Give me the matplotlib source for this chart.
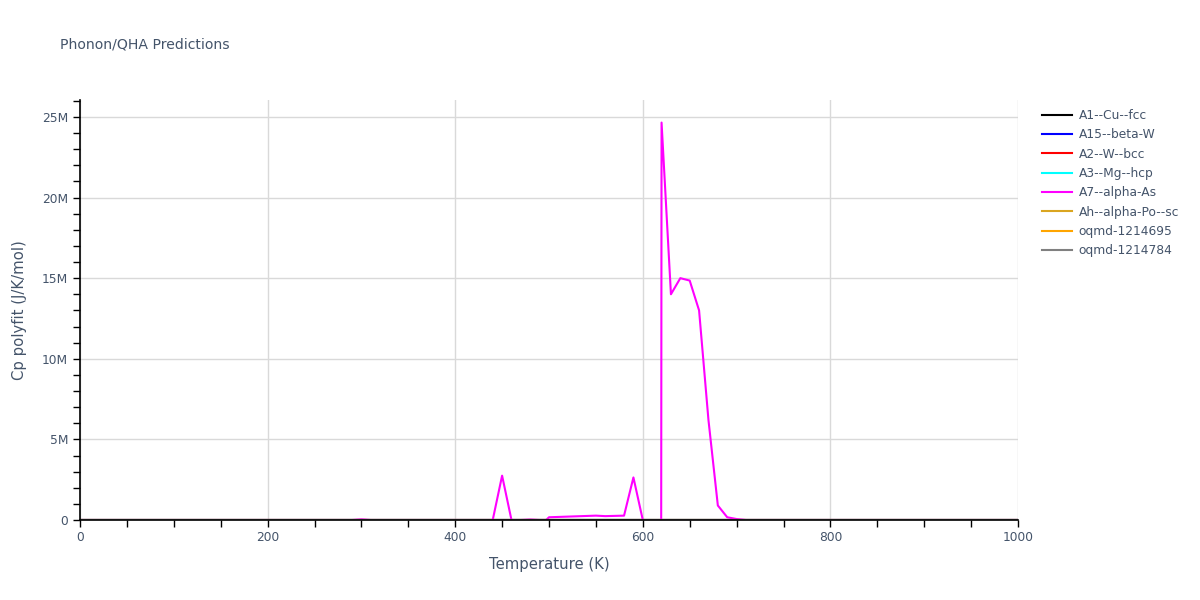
import matplotlib.pyplot as plt
from matplotlib.ticker import FuncFormatter, MultipleLocator

######### DATA #########
temps_coarse = [0, 100, 200, 300, 400, 500, 600, 700, 800, 900, 1000]
cp_a1 = [0, 16, 22, 24, 25, 25.5, 26, 26.5, 27, 27.5, 28]
cp_a15 = [0, 15, 21, 23, 24, 24.5, 25, 25.5, 26, 26.5, 27]
cp_a2 = [0, 14, 21, 23, 24, 24.6, 25.1, 25.6, 26.1, 26.6, 27.1]
cp_a3 = [0, 17, 22, 24, 25, 25.4, 25.8, 26.2, 26.6, 27, 27.4]
cp_ah = [0, 13, 20, 23, 24, 24.8, 25.5, 26, 26.6, 27.2, 27.8]
cp_oq1 = [0, 15, 21, 23.5, 24.5, 25, 25.5, 26, 26.5, 27, 27.5]
cp_oq2 = [0, 16, 21.5, 23.8, 24.8, 25.3, 25.8, 26.3, 26.8, 27.3, 27.8]

# A7--alpha-As blows up around 600-700 K (values in J/K/mol)
temps_a7 = [0, 100, 200, 290, 300, 310, 400, 440, 450, 460, 470, 480, 490, 497,
            500, 550, 560, 580, 590, 600, 610, 620, 630, 640, 650, 660, 670, 680,
            690, 700, 710, 800, 900, 1000]
cp_a7 = [0, 0, 0, 0, 0.04e6, 0, 0, 0, 2.75e6, 0, 0, 0.03e6, 0, 0, 0.17e6,
         0.27e6, 0.24e6, 0.27e6, 2.64e6, 0, -600e6, 24.65e6, 14.0e6, 15.0e6,
         14.85e6, 13.0e6, 6.2e6, 0.9e6, 0.17e6, 0.06e6, 0, 0, 0, 0]

series = [
    ("A1--Cu--fcc", temps_coarse, cp_a1, "black"),
    ("A15--beta-W", temps_coarse, cp_a15, "blue"),
    ("A2--W--bcc", temps_coarse, cp_a2, "red"),
    ("A3--Mg--hcp", temps_coarse, cp_a3, "cyan"),
    ("A7--alpha-As", temps_a7, cp_a7, "magenta"),
    ("Ah--alpha-Po--sc", temps_coarse, cp_ah, "goldenrod"),
    ("oqmd-1214695", temps_coarse, cp_oq1, "orange"),
    ("oqmd-1214784", temps_coarse, cp_oq2, "grey"),
]

######### PLOTTING #########
text_color = "#44546a"
fig = plt.figure(figsize=(12, 6), dpi=100)
ax = fig.add_axes([80 / 1200, 1 - 520 / 600, 938 / 1200, 420 / 600])

for name, t, cp, color in series:
    ax.plot(t, cp, color=color, lw=1.5, label=name)

ax.set_xlim(0, 1000)
ax.set_ylim(0, 26.05e6)

ax.xaxis.set_major_locator(MultipleLocator(200))
ax.xaxis.set_minor_locator(MultipleLocator(50))
ax.yaxis.set_major_locator(MultipleLocator(5e6))
ax.yaxis.set_minor_locator(MultipleLocator(1e6))
ax.yaxis.set_major_formatter(FuncFormatter(lambda v, p: "0" if v == 0 else "%dM" % round(v / 1e6)))

ax.grid(True, which="major", color="#d9d9d9", lw=1)
ax.set_axisbelow(True)
for side in ["top", "right"]:
    ax.spines[side].set_visible(False)
for side in ["left", "bottom"]:
    ax.spines[side].set_color("black")
    ax.spines[side].set_linewidth(1.2)
    ax.spines[side].set_zorder(5)

ax.tick_params(which="both", direction="out", length=5, width=1, color="black",
               labelcolor=text_color, labelsize=8.8)
ax.tick_params(axis="x", pad=3)

ax.set_xlabel("Temperature (K)", color=text_color, fontsize=10.7, labelpad=9)
ax.set_ylabel("Cp polyfit (J/K/mol)", color=text_color, fontsize=10.7, labelpad=11)

fig.text(60 / 1200, 1 - 45 / 600, "Phonon/QHA Predictions", color=text_color,
         fontsize=10.1, va="center")

leg = ax.legend(loc="upper left", bbox_to_anchor=(1037 / 1200, 1 - 104 / 600),
                bbox_transform=fig.transFigure, frameon=False, fontsize=8.8,
                handlelength=2.5, handletextpad=0.5, labelspacing=0.52,
                borderaxespad=0)
for txt in leg.get_texts():
    txt.set_color(text_color)

plt.savefig("out.png", dpi=100)
